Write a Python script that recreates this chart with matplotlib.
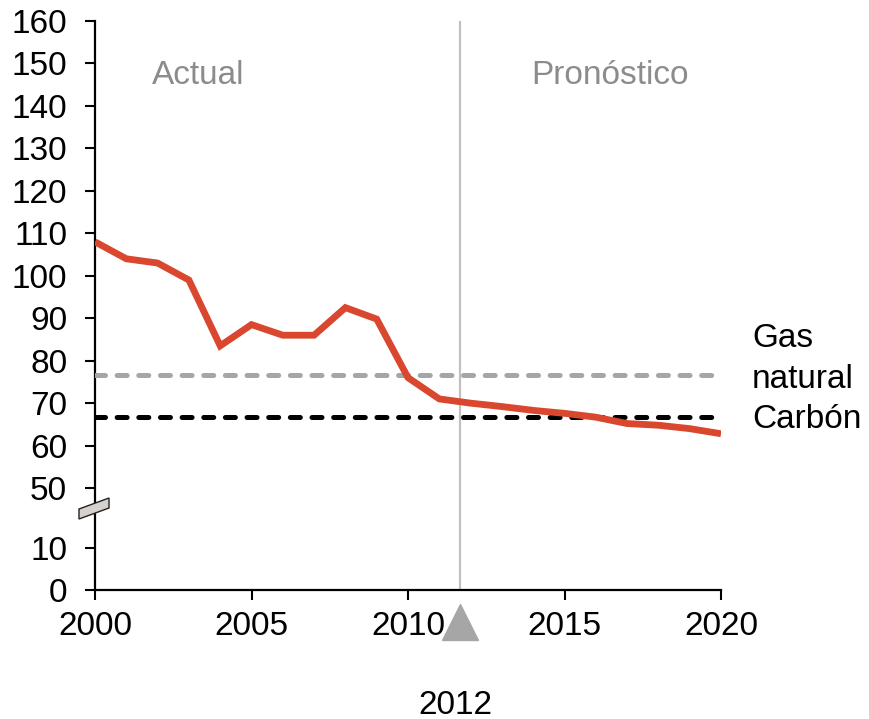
import numpy as np
import matplotlib
matplotlib.use("Agg")
import matplotlib.pyplot as plt
from matplotlib.patches import Polygon
from matplotlib.transforms import blended_transform_factory

plt.rcParams['font.family'] = ['Liberation Sans', 'DejaVu Sans']

years = list(range(2000, 2021))
price = [108, 104, 103, 99, 83.5, 88.5, 86, 86, 92.5, 89.8, 76,
         71, 70, 69.2, 68.3, 67.6, 66.7, 65.2, 64.8, 64, 62.8]
gas_level = 76.7
coal_level = 66.8
yticks = [0, 10, 50, 60, 70, 80, 90, 100, 110, 120, 130, 140, 150, 160]
xticks = [2000, 2005, 2010, 2015, 2020]
split_year = 11.66 + 2000
split_label = "2012"

GAP = 26.0

def fwd(v):
    v = np.asarray(v, dtype=float)
    return np.where(v <= 10, v, np.where(v >= 50, v - GAP, 10 + (v - 10) * (50 - GAP - 10) / 40.0))

def inv(u):
    u = np.asarray(u, dtype=float)
    return np.where(u <= 10, u, np.where(u >= 50 - GAP, u + GAP, 10 + (u - 10) * 40.0 / (50 - GAP - 10)))

FS = 24
W, H = 869, 719
fig = plt.figure(figsize=(W / 100, H / 100), dpi=100)
ax = fig.add_axes([95 / W, 1 - 590 / H, (721 - 95) / W, (590 - 21) / H])
ax.set_yscale('function', functions=(fwd, inv))
ax.set_ylim(0, 160)
ax.set_xlim(2000, 2020)

ax.plot(years, price, color='#d9472f', lw=4.9, solid_capstyle='butt', solid_joinstyle='miter', zorder=4)
ax.plot([2000, 2020], [gas_level, gas_level], color='#a6a6a6', lw=3.6,
        dashes=(2.0, 2.33), dash_capstyle='round', zorder=3)
ax.plot([2000, 2020], [coal_level, coal_level], color='black', lw=3.6,
        dashes=(2.0, 2.33), dash_capstyle='round', zorder=3)
ax.axvline(split_year, color='#c0c0c0', lw=1.6, zorder=2)

trans = blended_transform_factory(ax.transData, ax.transAxes)
ax.plot([split_year], [-0.0554], marker='^', markersize=26.5, color='#a6a6a6',
        transform=trans, clip_on=False, zorder=5)

ax.set_yticks(yticks)
ax.set_yticklabels([str(t) for t in yticks])
ax.set_xticks(xticks)
ax.set_xticklabels([str(t) for t in xticks])
ax.minorticks_off()
ax.tick_params(axis='both', labelsize=FS, width=1.5, length=7, color='black')
ax.tick_params(axis='y', pad=13)
ax.tick_params(axis='x', pad=8)
for s in ['top', 'right']:
    ax.spines[s].set_visible(False)
for s in ['left', 'bottom']:
    ax.spines[s].set_linewidth(1.6)

fig.text(198 / W, 1 - 75 / H, "Actual", ha='center', va='center', fontsize=FS, color='#8c8c8c')
fig.text(610 / W, 1 - 75 / H, "Pronóstico", ha='center', va='center', fontsize=FS, color='#8c8c8c')
fig.text(752 / W, 1 - 338 / H, "Gas", ha='left', va='center', fontsize=FS, color='black')
fig.text(752 / W, 1 - 380 / H, "natural", ha='left', va='center', fontsize=FS, color='black')
fig.text(752 / W, 1 - 420 / H, "Carbón", ha='left', va='center', fontsize=FS, color='black')
fig.text(455 / W, 1 - 705 / H, split_label, ha='center', va='center', fontsize=FS, color='black')

brk = [(79, 509), (109, 498), (109, 508), (79, 519)]
poly = Polygon([(x / W, 1 - y / H) for x, y in brk], closed=True, transform=fig.transFigure,
               facecolor='#d6d1cd', edgecolor='#222222', lw=1.0, zorder=10)
fig.patches.append(poly)

fig.savefig("out.png", dpi=100)
